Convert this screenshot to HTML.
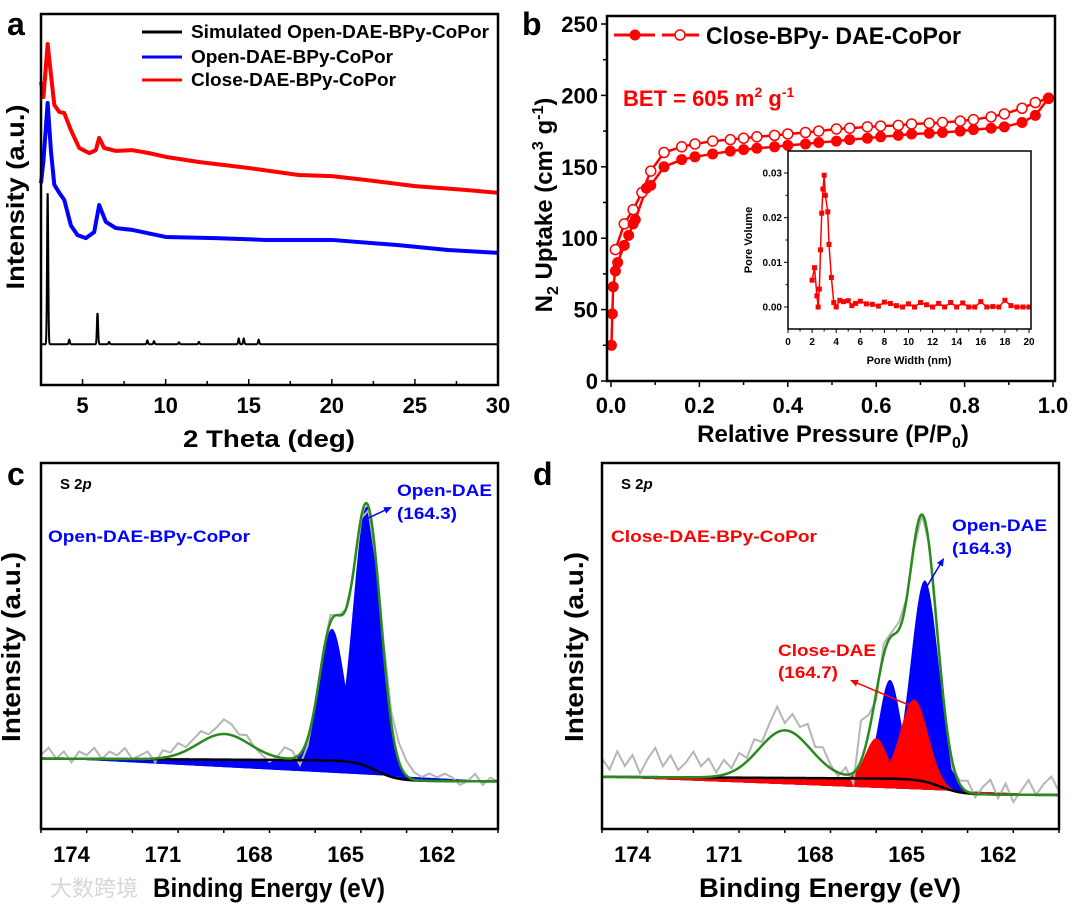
<!DOCTYPE html>
<html><head><meta charset="utf-8">
<style>
html,body{margin:0;padding:0;background:#fff;}
svg{display:block;font-family:"Liberation Sans","Noto Sans CJK SC",sans-serif;font-weight:bold;}
.nar{font-family:"Liberation Sans Narrow","Liberation Sans",sans-serif;}
</style></head>
<body>
<svg id="fig" width="1080" height="906" viewBox="0 0 1080 906" xmlns="http://www.w3.org/2000/svg">
  <text x="7" y="35" font-size="32">a</text>
  <text x="522" y="35" font-size="32">b</text>
  <text x="7" y="485" font-size="32">c</text>
  <text x="533" y="485" font-size="32">d</text>

  <text x="24" y="197" font-size="25" text-anchor="middle" transform="rotate(-90 24 197)" textLength="185" lengthAdjust="spacingAndGlyphs">Intensity (a.u.)</text>
  <text x="269" y="447" font-size="24" text-anchor="middle" textLength="172" lengthAdjust="spacingAndGlyphs">2 Theta (deg)</text>
  <g>
    <line x1="142" y1="32" x2="182" y2="32" stroke="#000" stroke-width="3"/>
    <text x="191" y="38" font-size="18" textLength="298" lengthAdjust="spacingAndGlyphs">Simulated Open-DAE-BPy-CoPor</text>
    <line x1="142" y1="57" x2="182" y2="57" stroke="#0000ff" stroke-width="3"/>
    <text x="191" y="63" font-size="18" textLength="202" lengthAdjust="spacingAndGlyphs">Open-DAE-BPy-CoPor</text>
    <line x1="142" y1="80" x2="182" y2="80" stroke="#ff0000" stroke-width="3"/>
    <text x="191" y="86" font-size="18" textLength="205" lengthAdjust="spacingAndGlyphs">Close-DAE-BPy-CoPor</text>
  </g>

  <text x="552" y="205" font-size="24" text-anchor="middle" transform="rotate(-90 552 205)">N<tspan font-size="16" dy="6">2</tspan><tspan dy="-6"> Uptake (cm</tspan><tspan font-size="16" dy="-9">3</tspan><tspan dy="9"> g</tspan><tspan font-size="16" dy="-9">-1</tspan><tspan dy="9">)</tspan></text>
  <text x="833" y="442" font-size="24" text-anchor="middle">Relative Pressure (P/P<tspan font-size="16" dy="6">0</tspan><tspan dy="-6">)</tspan></text>
  <g>
    <line x1="614" y1="35" x2="655" y2="35" stroke="#ff0000" stroke-width="3"/>
    <line x1="662" y1="35" x2="699" y2="35" stroke="#ff0000" stroke-width="3"/>
    <circle cx="635" cy="35" r="5" fill="#ff0000" stroke="#ff0000"/>
    <circle cx="680" cy="35" r="5" fill="#fff" stroke="#ff0000" stroke-width="1.5"/>
    <text x="706" y="44" font-size="24" textLength="255" lengthAdjust="spacingAndGlyphs">Close-BPy- DAE-CoPor</text>
  </g>
  <text x="623" y="106" font-size="22" fill="#ff0000">BET = 605 m<tspan font-size="14" dy="-9">2</tspan><tspan dy="9"> g</tspan><tspan font-size="14" dy="-9">-1</tspan></text>

  <text x="752" y="240" font-size="11" text-anchor="middle" transform="rotate(-90 752 240)">Pore Volume</text>
  <text x="909" y="364" font-size="11" text-anchor="middle">Pore Width (nm)</text>
  <line x1="902" y1="161" x2="922" y2="161" stroke="#ff0000" stroke-width="1.5"/>
  <rect x="909.5" y="158.5" width="5" height="5" fill="#ff0000"/>
  <text x="925" y="164" font-size="8">Close-DAE-BPy-CoPor</text>
  <text x="829" y="174" font-size="8">2.96 nm</text>

  <text x="20" y="647" font-size="26" text-anchor="middle" transform="rotate(-90 20 647)" textLength="190" lengthAdjust="spacingAndGlyphs">Intensity (a.u.)</text>
  <text x="269" y="897" font-size="27" text-anchor="middle" class="nar" textLength="232" lengthAdjust="spacingAndGlyphs">Binding Energy (eV)</text>
  <text x="60" y="489" font-size="15">S 2<tspan font-style="italic">p</tspan></text>
  <text x="48" y="542" font-size="17" fill="#0000ff" class="nar" textLength="202" lengthAdjust="spacingAndGlyphs">Open-DAE-BPy-CoPor</text>
  <text x="397" y="496" font-size="17" fill="#0000ff" class="nar" textLength="95" lengthAdjust="spacingAndGlyphs">Open-DAE</text>
  <text x="397" y="519" font-size="17" fill="#0000ff" class="nar" textLength="60" lengthAdjust="spacingAndGlyphs">(164.3)</text>

  <text x="583" y="647" font-size="26" text-anchor="middle" transform="rotate(-90 583 647)" textLength="190" lengthAdjust="spacingAndGlyphs">Intensity (a.u.)</text>
  <text x="830" y="897" font-size="27" text-anchor="middle" textLength="262" lengthAdjust="spacingAndGlyphs">Binding Energy (eV)</text>
  <text x="621" y="489" font-size="15">S 2<tspan font-style="italic">p</tspan></text>
  <text x="611" y="542" font-size="17" fill="#ff0000" textLength="206" lengthAdjust="spacingAndGlyphs">Close-DAE-BPy-CoPor</text>
  <text x="952" y="531" font-size="17" fill="#0000ff" textLength="95" lengthAdjust="spacingAndGlyphs">Open-DAE</text>
  <text x="952" y="554" font-size="17" fill="#0000ff" textLength="60" lengthAdjust="spacingAndGlyphs">(164.3)</text>
  <text x="778" y="656" font-size="17" fill="#ff0000" textLength="98" lengthAdjust="spacingAndGlyphs">Close-DAE</text>
  <text x="778" y="678" font-size="17" fill="#ff0000" textLength="60" lengthAdjust="spacingAndGlyphs">(164.7)</text>

  <text x="50" y="896" font-size="22" fill="#d6d6d6" font-weight="normal">大数跨境</text>
</svg>
<script>
// ---------- DATA ----------
const simPeakPos = [2.9, 4.2, 5.9, 6.6, 8.9, 9.3, 10.8, 12.0, 14.4, 14.7, 15.6];
const simPeakHeight = [40.7, 1.2, 8.4, 0.6, 1.0, 0.8, 0.5, 0.6, 1.5, 1.5, 1.2];
const simBaseline = 11;
const openTheta = [2.5, 2.65, 2.9, 3.1, 3.3, 3.6, 3.9, 4.3, 4.7, 5.2, 5.7, 6.0, 6.4, 7.0, 8.0, 10, 13, 16, 20, 24, 27, 30];
const openIntensity = [54.4, 60.6, 76, 63, 54, 51.8, 49.9, 43, 40.4, 39.6, 41.2, 48.5, 44, 42.3, 41.8, 39.9, 39.6, 39.1, 39.1, 37.7, 36.4, 35.6];
const closeTheta = [2.5, 2.65, 2.9, 3.1, 3.3, 3.6, 3.9, 4.3, 4.8, 5.4, 5.8, 6.0, 6.3, 7.0, 8.0, 9, 10, 12, 15, 18, 20, 22, 25, 28, 30];
const closeIntensity = [81.7, 77.6, 91.9, 83.6, 75.5, 73.6, 73.3, 68.7, 63.9, 62.5, 63.3, 66.6, 63.9, 63.1, 63.3, 62.5, 61.5, 60.1, 58.5, 56.6, 56.3, 55.3, 53.6, 52.6, 51.8];
const aTicks = [5, 10, 15, 20, 25, 30];

const adsP = [0.001, 0.003, 0.005, 0.01, 0.015, 0.03, 0.04, 0.05, 0.055, 0.08, 0.09, 0.12, 0.16, 0.19, 0.23, 0.27, 0.3, 0.33, 0.37, 0.4, 0.44, 0.47, 0.51, 0.54, 0.58, 0.61, 0.65, 0.68, 0.72, 0.75, 0.79, 0.82, 0.86, 0.89, 0.93, 0.96, 0.99];
const adsV = [25, 47, 66, 77, 83, 95, 102, 110, 113, 135, 137, 150, 155, 157, 159, 161, 162, 163, 164, 165, 166, 167, 168, 169, 170, 171, 172, 173, 173.5, 174, 175, 176, 177, 178, 181, 186, 198];
const desP = [0.99, 0.96, 0.93, 0.89, 0.86, 0.82, 0.79, 0.75, 0.72, 0.68, 0.65, 0.61, 0.58, 0.54, 0.51, 0.47, 0.44, 0.4, 0.37, 0.33, 0.3, 0.27, 0.23, 0.19, 0.16, 0.12, 0.09, 0.07, 0.05, 0.03, 0.01];
const desV = [198, 195, 191, 187, 185, 183, 182, 181, 180.5, 180, 179, 178.5, 178, 177, 176.5, 175, 174, 173, 172, 171, 170, 169, 168, 166, 164, 160, 147, 132, 120, 110, 92];
const bXTicks = [0, 0.2, 0.4, 0.6, 0.8, 1.0];
const bXTickLabels = ['0.0', '0.2', '0.4', '0.6', '0.8', '1.0'];
const bYTicks = [0, 50, 100, 150, 200, 250];

const psdWidth = [2.0, 2.2, 2.4, 2.5, 2.6, 2.7, 2.8, 2.9, 3.0, 3.1, 3.3, 3.4, 3.6, 3.8, 4.0, 4.3, 4.6, 5.0, 5.3, 5.6, 6.0, 6.5, 7.0, 7.5, 8.0, 8.5, 9.0, 9.5, 10, 10.5, 11, 11.5, 12, 12.5, 13, 13.5, 14, 14.5, 15, 15.5, 16, 16.5, 17, 17.5, 18, 18.5, 19, 19.5, 20];
const psdVolume = [0.006, 0.0088, 0.0025, 0.0, 0.004, 0.0128, 0.021, 0.0264, 0.0295, 0.025, 0.0213, 0.014, 0.0066, 0.001, 0.0, 0.0015, 0.0012, 0.0014, 0.0003, 0.0008, 0.0013, 0.0007, 0.0006, 0.0002, 0.0011, 0.0008, 0.0003, 0.0, 0.0007, 0.0, 0.001, 0.0005, 0.0, 0.0008, 0.0, 0.001, 0.0, 0.0009, 0.0, 0.0, 0.0012, 0.0, 0.0001, 0.0, 0.0015, 0.0003, 0.0, 0.0, 0.0];
const insetXTicks = [0, 2, 4, 6, 8, 10, 12, 14, 16, 18, 20];
const insetYTicks = [0, 0.01, 0.02, 0.03];
const insetYTickLabels = ['0.00', '0.01', '0.02', '0.03'];

const xpsTicks = [174, 171, 168, 165, 162];
const cCompCenter = [164.3, 165.45];
const cCompHeight = [71, 36];
const cCompSigma = [0.45, 0.42];
const cSatellite = [169.0, 7, 0.85];
const cBackground = [13, 0.05, 5.5, 164.0, 0.35];
const cFillEnds = [19.5, 13];
const cRawResidual = [1,3,0,2,-1,2,1,3,0,2, 1,3,0,1,2,-1,2,1,3,1, 2,3,1,2,4,3,1,2,0,-1, -2,0,3,2,-3,-2,0,1,2,0, 0,-1,0,-1,0,2,3,5,4,2,1, 2,1,2,1,-1,0,2,-1,1,0];

const dOpenCenter = [164.4, 165.55];
const dOpenHeight = [55, 27];
const dOpenSigma = [0.45, 0.35];
const dCloseCenter = [164.75, 166.0];
const dCloseHeight = [22, 11];
const dCloseSigma = [0.45, 0.35];
const dSatellite = [169.0, 13, 0.85];
const dBackground = [9.3, 0.05, 4.2, 163.9, 0.35];
const dFillEnds = [14.2, 9.3];
const dRawResidual = [5,2,7,3,6,1,5,8,3,6, 2,4,7,3,5,1,4,1,4,1, 4,1,4,7,2,5,3,6,2,4, 1,-1,2,-3,11,5,-2,3,1,2, 0,-1,0,1,-1,0,-2,1,3,-1, 2,4,-1,3,-2,1,4,0,3,5, 1];

// ---------- DRAWING ----------
const NS = 'http://www.w3.org/2000/svg';
const svg = document.getElementById('fig');
function mk(tag, attrs, parent) {
  const e = document.createElementNS(NS, tag);
  for (const k in attrs) e.setAttribute(k, attrs[k]);
  (parent || svg).appendChild(e);
  return e;
}
function pts(arr) { return arr.map(p => p[0].toFixed(2) + ',' + p[1].toFixed(2)).join(' '); }
function gauss(x, c, h, s) { return h * Math.exp(-(x - c) * (x - c) / (2 * s * s)); }
function frame(x0, y0, x1, y1, name, w) {
  const r = mk('rect', {x: x0, y: y0, width: x1 - x0, height: y1 - y0, fill: 'none', stroke: '#000', 'stroke-width': w || 2.5});
  
  
}

// ===== Panel a =====
const xa = t => 41 + (t - 2.5) / 27.5 * 457;
const ya = v => 385 - v * 3.71;
const gA = mk('g', {});


{
  const sim = [];
  for (let t = 2.5; t <= 30.001; t += 0.01) {
    let v = simBaseline;
    for (let i = 0; i < simPeakPos.length; i++) v += gauss(t, simPeakPos[i], simPeakHeight[i], 0.035);
    sim.push([xa(t), ya(v)]);
  }
  const l1 = mk('polyline', {points: pts(sim), fill: 'none', stroke: '#000', 'stroke-width': 2}, gA);
  
  
  const op = openTheta.map((t, i) => [xa(t), ya(openIntensity[i])]);
  const l2 = mk('polyline', {points: pts(op), fill: 'none', stroke: '#0000ff', 'stroke-width': 4, 'stroke-linejoin': 'round'}, gA);
  
  
  const cp = closeTheta.map((t, i) => [xa(t), ya(closeIntensity[i])]);
  const l3 = mk('polyline', {points: pts(cp), fill: 'none', stroke: '#ff0000', 'stroke-width': 4, 'stroke-linejoin': 'round'}, gA);
  
  
  for (let t = 5; t <= 30; t += 2.5) {
    const major = aTicks.includes(t);
    const tk = mk('line', {x1: xa(t), x2: xa(t), y1: 385, y2: 385 - (major ? 6 : 4), stroke: '#000', 'stroke-width': 1.5}, gA);
    
    
  }
  aTicks.forEach(t => {
    const tx = mk('text', {x: xa(t), y: 413, 'font-size': 22, 'text-anchor': 'middle'}, gA);
    tx.textContent = t;
    
    
  });
  frame(41, 14, 498, 385, 'a-plot-frame');
}

// ===== Panel b =====
const xb = p => 611 + p * 442;
const yb = v => 381 - v * 1.428;
const gB = mk('g', {});


{
  frame(607, 16, 1055, 381, 'b-plot-frame');
  for (let v = 0; v <= 250; v += 25) {
    const major = v % 50 === 0;
    const tk = mk('line', {x1: 607, x2: 607 - (major ? 6 : 4), y1: yb(v), y2: yb(v), stroke: '#000', 'stroke-width': 1.5}, gB);
    
    
  }
  bYTicks.forEach(v => {
    const tx = mk('text', {x: 598, y: yb(v) + 8, 'font-size': 22, 'text-anchor': 'end'}, gB);
    tx.textContent = v;
    
    
  });
  for (let i = 0; i <= 10; i++) {
    const p = i / 10;
    const tk = mk('line', {x1: xb(p), x2: xb(p), y1: 381, y2: 381 + (i % 2 === 0 ? 6 : 4), stroke: '#000', 'stroke-width': 1.5}, gB);
    
    
  }
  bXTicks.forEach((p, i) => {
    const tx = mk('text', {x: xb(p), y: 413, 'font-size': 22, 'text-anchor': 'middle'}, gB);
    tx.textContent = bXTickLabels[i];
    
    
  });
  const dl = mk('polyline', {points: pts(desP.map((p, i) => [xb(p), yb(desV[i])])), fill: 'none', stroke: '#ff0000', 'stroke-width': 2.5}, gB);
  
  
  const al = mk('polyline', {points: pts(adsP.map((p, i) => [xb(p), yb(adsV[i])])), fill: 'none', stroke: '#ff0000', 'stroke-width': 2.5}, gB);
  
  
  desP.forEach((p, i) => {
    const c = mk('circle', {cx: xb(p), cy: yb(desV[i]), r: 5, fill: '#fff', stroke: '#ff0000', 'stroke-width': 1.5}, gB);
    
    
  });
  adsP.forEach((p, i) => {
    const c = mk('circle', {cx: xb(p), cy: yb(adsV[i]), r: 5, fill: '#ff0000', stroke: '#ff0000'}, gB);
    
    
  });
}

// ===== Inset =====
const xi = w => 788 + w / 20 * 241;
const yi = v => 307 - v * 4467;
const gI = mk('g', {});


{
  const bg = mk('rect', {x: 788, y: 151, width: 243, height: 178, fill: '#fff'}, gI);
  
  
  frame(788, 151, 1031, 329, 'inset-frame', 1.5);
  for (let w = 0; w <= 20; w += 1) {
    const tk = mk('line', {x1: xi(w), x2: xi(w), y1: 329, y2: 329 + (w % 2 === 0 ? 4 : 2.5), stroke: '#000', 'stroke-width': 1}, gI);
    
    
  }
  insetXTicks.forEach(w => {
    const tx = mk('text', {x: xi(w), y: 345, 'font-size': 10, 'text-anchor': 'middle'}, gI);
    tx.textContent = w;
    
    
  });
  for (let k = 0; k <= 6; k++) {
    const v = k * 0.005;
    const tk = mk('line', {x1: 788, x2: 788 - (k % 2 === 0 ? 4 : 2.5), y1: yi(v), y2: yi(v), stroke: '#000', 'stroke-width': 1}, gI);
    
    
  }
  insetYTicks.forEach((v, i) => {
    const tx = mk('text', {x: 782, y: yi(v) + 3.5, 'font-size': 10, 'text-anchor': 'end'}, gI);
    tx.textContent = insetYTickLabels[i];
    
    
  });
  const pl = mk('polyline', {points: pts(psdWidth.map((w, i) => [xi(w), yi(psdVolume[i])])), fill: 'none', stroke: '#ff0000', 'stroke-width': 1.5}, gI);
  
  
  psdWidth.forEach((w, i) => {
    const m = mk('rect', {x: xi(w) - 2.5, y: yi(psdVolume[i]) - 2.5, width: 5, height: 5, fill: '#ff0000'}, gI);
    
    
  });
}

// ===== XPS panels =====
function drawXps(opt) {
  const X = E => opt.x0 + (175 - E) / 15 * 457;
  const Y = v => 829 - v * 3.66;
  const g = mk('g', {});
  
  
  const B = opt.bgp;
  const bg = E => B[0] + B[1] * (E - 160) + B[2] / (1 + Math.exp(-(E - B[3]) / B[4]));
  const base = E => opt.fill[1] + (opt.fill[0] - opt.fill[1]) * (E - 160) / 15;
  const Es = [];
  for (let E = 175; E >= 159.999; E -= 0.02) Es.push(E);
  const comps = opt.comps;
  const sat = opt.sat;
  const env = E => { let v = bg(E) + gauss(E, sat[0], sat[1], sat[2]); comps.forEach(c => v += gauss(E, c[0], c[1], c[2])); return v; };
  comps.forEach(c => {
    const top = Es.map(E => [X(E), Y(bg(E) + gauss(E, c[0], c[1], c[2]))]);
    const bot = Es.slice().reverse().map(E => [X(E), Y(base(E))]);
    const f = mk('polygon', {points: pts(top.concat(bot)), fill: c[3], stroke: 'none'}, g);
    
    
  });
  const raw = opt.raw.map((r, i) => { const E = 175 - 0.25 * i; return [X(E), Y(env(E) + r)]; });
  const rl = mk('polyline', {points: pts(raw), fill: 'none', stroke: '#b5b5b5', 'stroke-width': 2}, g);
  
  
  const bl = mk('polyline', {points: pts(Es.map(E => [X(E), Y(bg(E))])), fill: 'none', stroke: '#000', 'stroke-width': 2.5}, g);
  
  
  const el = mk('polyline', {points: pts(Es.map(E => [X(E), Y(env(E))])), fill: 'none', stroke: '#2a8a1e', 'stroke-width': 2.5}, g);
  
  
  const x1 = opt.x0 + 457;
  frame(opt.x0, 463, x1, 829, opt.name + '-frame');
  for (let E = 175; E >= 160; E -= 1.5) {
    const major = xpsTicks.includes(E);
    const tk = mk('line', {x1: X(E), x2: X(E), y1: 829, y2: 829 + (major ? 6 : 4), stroke: '#000', 'stroke-width': 1.5}, g);
    
    
  }
  xpsTicks.forEach(E => {
    const tx = mk('text', {x: X(E), y: 862, 'font-size': 22, 'text-anchor': 'middle', 'class': opt.narrow ? 'nar' : ''}, g);
    tx.textContent = E;
    
    
  });
}
drawXps({name: 'panel-c-plot', x0: 41, bgp: cBackground, fill: cFillEnds, sat: cSatellite, raw: cRawResidual, narrow: true,
  comps: [
    [cCompCenter[0], cCompHeight[0], cCompSigma[0], '#0000ff', 'open-dae-component-1'],
    [cCompCenter[1], cCompHeight[1], cCompSigma[1], '#0000ff', 'open-dae-component-2']
  ]});
drawXps({name: 'panel-d-plot', x0: 602, bgp: dBackground, fill: dFillEnds, sat: dSatellite, raw: dRawResidual, narrow: false,
  comps: [
    [dOpenCenter[0], dOpenHeight[0], dOpenSigma[0], '#0000ff', 'open-dae-component-1'],
    [dOpenCenter[1], dOpenHeight[1], dOpenSigma[1], '#0000ff', 'open-dae-component-2'],
    [dCloseCenter[0], dCloseHeight[0], dCloseSigma[0], '#ff0000', 'close-dae-component-1'],
    [dCloseCenter[1], dCloseHeight[1], dCloseSigma[1], '#ff0000', 'close-dae-component-2']
  ]});

function arrow(x1, y1, x2, y2, color, name) {
  const a = Math.atan2(y2 - y1, x2 - x1);
  const l = mk('line', {x1: x1, y1: y1, x2: x2 - 5 * Math.cos(a), y2: y2 - 5 * Math.sin(a), stroke: color, 'stroke-width': 1.5});
  
  
  const h = 8, w = 3.5;
  const bx = x2 - h * Math.cos(a), by = y2 - h * Math.sin(a);
  const p = mk('polygon', {points: [x2, y2, bx + w * Math.sin(a), by - w * Math.cos(a), bx - w * Math.sin(a), by + w * Math.cos(a)].join(' '), fill: color});
  
  
}
arrow(364, 520, 392, 507, '#0000ff', 'c-open-dae-arrow');
arrow(926, 588, 944, 558, '#0000ff', 'd-open-dae-arrow');
arrow(916, 708, 850, 680, '#ff0000', 'd-close-dae-arrow');
</script>
</body></html>
